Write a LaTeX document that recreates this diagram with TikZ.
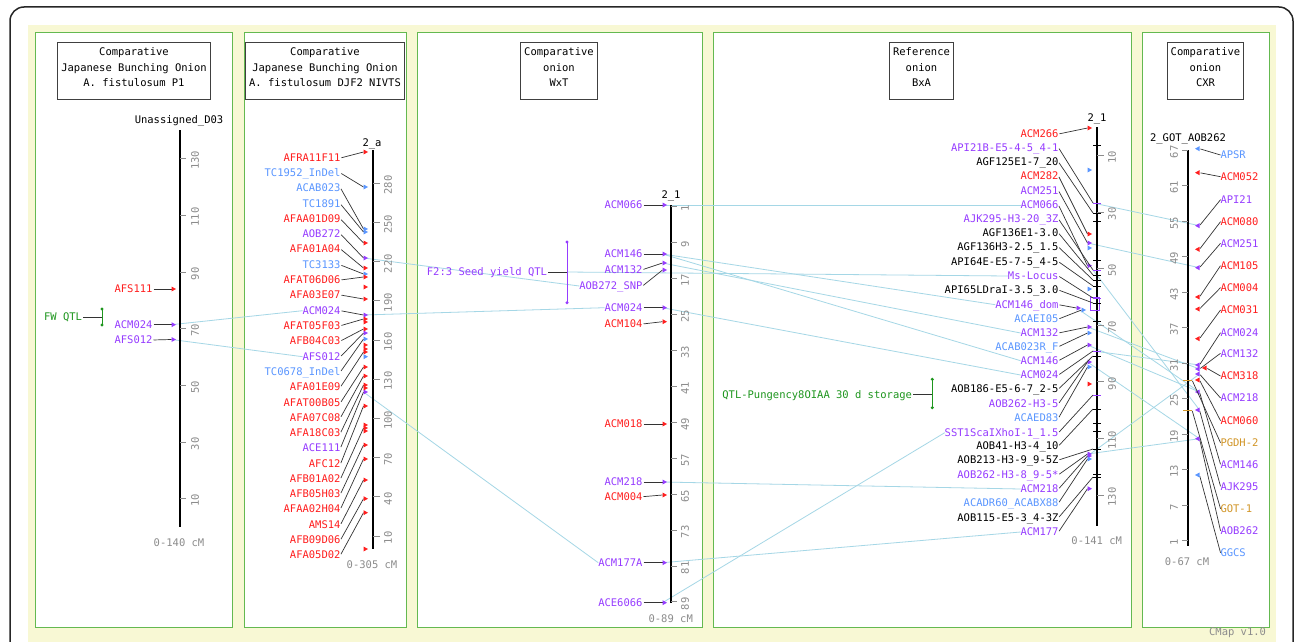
\documentclass[tikz,border=0pt]{standalone}
\usepackage{fontspec}
\setmonofont{DejaVu Sans Mono}
\usetikzlibrary{arrows, shapes}

\definecolor{mred}{RGB}{255,30,30}
\definecolor{mpurple}{RGB}{150,60,255}
\definecolor{mblue}{RGB}{90,150,255}
\definecolor{mgold}{RGB}{210,150,40}
\definecolor{mgreen}{RGB}{30,150,30}
\definecolor{tickgray}{RGB}{140,140,140}
\definecolor{corrblue}{RGB}{165,215,230}
\definecolor{panelgreen}{RGB}{100,185,80}
\definecolor{bgyellow}{RGB}{248,248,212}

\pgfdeclarelayer{back}
\pgfdeclarelayer{mid}
\pgfsetlayers{back,mid,main}

\begin{document}
\begin{tikzpicture}[x=1pt, y=-1pt, font=\ttfamily\fontsize{10.5}{12}\selectfont]
    \tikzstyle{every node} = [inner sep=0pt, outer sep=0pt]
    \tikzstyle{mono} = [text height=7.6pt, text depth=0pt]
    \tikzstyle{lab} = [mono, anchor=east]
    \tikzstyle{rlab} = [mono, anchor=west]
    \tikzstyle{lead} = [draw=black!80, line width=0.7pt, shorten <=1pt]
    \tikzstyle{corr} = [draw=corrblue, line width=0.8pt]
    \tikzstyle{cbar} = [draw=black, line width=2pt]
    \tikzstyle{tick} = [draw=tickgray, line width=0.7pt]
    \tikzstyle{ticklab} = [mono, text=tickgray, rotate=90]
    \tikzstyle{rangelab} = [mono, text=tickgray]
    \tikzstyle{panel} = [draw=panelgreen, fill=white, line width=1pt]
    \tikzstyle{titlebox} = [draw=black!75, fill=white, line width=0.9pt]
    \tikzstyle{titletext} = [align=center, font=\ttfamily\fontsize{10.5}{15.7}\selectfont]
    \tikzstyle{qtlbar} = [line width=0.9pt]

    \useasboundingbox (0,0) rectangle (1295,642);
    \clip (0,0) rectangle (1295,642);

    % frame, background and the five panels
    \begin{pgfonlayer}{back}
      \draw[black!85, line width=1.5pt, rounded corners=14pt] (10,7) rectangle (1293,700);
      \fill[bgyellow] (28,25) rectangle (1276,700);
      \draw[panel] (35.5,32.5) rectangle (232,627);
      \draw[panel] (244,32.5) rectangle (406,627);
      \draw[panel] (417,32.5) rectangle (702,627);
      \draw[panel] (713,32.5) rectangle (1131,627);
      \draw[panel] (1142,32.5) rectangle (1269,627);
    \end{pgfonlayer}

    % titles
    \draw[titlebox] (57.5,42) rectangle (210.5,99);
    \node[titletext] (t1) at (134,67.3) {Comparative\\Japanese Bunching Onion\\A. fistulosum P1};
    \draw[titlebox] (245.5,42) rectangle (404.5,99);
    \node[titletext] (t2) at (325,67.3) {Comparative\\Japanese Bunching Onion\\A. fistulosum DJF2 NIVTS};
    \draw[titlebox] (520.5,42) rectangle (597.5,99);
    \node[titletext] (t3) at (559,67.3) {Comparative\\onion\\WxT};
    \draw[titlebox] (889.5,42) rectangle (953.5,99);
    \node[titletext] (t4) at (921.5,67.3) {Reference\\onion\\BxA};
    \draw[titlebox] (1167.5,42) rectangle (1243.5,99);
    \node[titletext] (t5) at (1205.5,67.3) {Comparative\\onion\\CXR};

    \node[anchor=east, mono, text=tickgray] (cmap) at (1266,632) {CMap v1.0};

    % map 1: Unassigned_D03
    \node[mono] (n1) at (179,120) {Unassigned\_D03};
    \coordinate (c1top) at (180,130);
    \coordinate (c1bot) at (180,527);
    \draw[cbar] (c1top) -- (c1bot);
    \foreach \v in {10,30,...,130} {
      \draw[tick] (180,{527-2.835*\v}) -- ++(6,0);
      \node[ticklab] (k1\v) at (195,{529-2.835*\v}) {\v};
    }
    \node[rangelab] (r1) at (179,542.7) {0-140 cM};
    \foreach \nm/\txt/\col/\ly/\my in {afs111/AFS111/mred/289/289,
        acm024/ACM024/mpurple/324.7/324.7, afs012/AFS012/mpurple/340/339.5} {
      \node[lab, text=\col] (l1\nm) at (152.5,\ly) {\txt};
      \coordinate (m1\nm) at (171.5,\my);
      \draw[lead] (l1\nm.east) -- (m1\nm);
      \fill[fill=\col] (m1\nm) ++(0,-2.5) -- ++(4.5,2.5) -- ++(-4.5,2.5) -- cycle;
    }
    \node[lab, text=mgreen] (qfw) at (82,317) {FW QTL};
    \coordinate (qfwtop) at (102,309);
    \coordinate (qfwbot) at (102,325);
    \draw[qtlbar, mgreen] (qfwtop) -- (qfwbot);
    \fill[mgreen] (qfwtop) circle (1.7) (qfwbot) circle (1.7);
    \draw[lead] (qfw.east) -- (qfwtop |- qfw.east);

    % map 2: 2_a
    \node[mono] (n2) at (372,142.5) {2\_a};
    \coordinate (c2top) at (373,150);
    \coordinate (c2bot) at (373,549);
    \draw[cbar] (c2top) -- (c2bot);
    \foreach \v in {10,40,...,280} {
      \draw[tick] (373,{549-1.3067*\v}) -- ++(7,0);
      \node[ticklab] (k2\v) at (388,{551-1.3067*\v}) {\v};
    }
    \node[rangelab] (r2) at (372,565) {0-305 cM};
    \foreach \nm/\txt/\col/\ly/\my in {afra11f11/AFRA11F11/mred/158/152,
        tc1952/TC1952\_InDel/mblue/173/187, acab023/ACAB023/mblue/188/229,
        tc1891/TC1891/mblue/204/232, afaa01d09/AFAA01D09/mred/219/243,
        aob272/AOB272/mpurple/234/258, afa01a04/AFA01A04/mred/249/268,
        tc3133/TC3133/mblue/265/274, afat06d06/AFAT06D06/mred/280/277,
        afa03e07/AFA03E07/mred/295/299, acm024/ACM024/mpurple/310.7/315,
        afat05f03/AFAT05F03/mred/325.7/319, afb04c03/AFB04C03/mred/341/329,
        afs012/AFS012/mpurple/356.7/333, tc0678/TC0678\_InDel/mblue/371.7/339,
        afa01e09/AFA01E09/mred/387/352, afat00b05/AFAT00B05/mred/402.7/367,
        afa07c08/AFA07C08/mred/417.7/376, afa18c03/AFA18C03/mred/433/385,
        ace111/ACE111/mpurple/448/392, afc12/AFC12/mred/464/406,
        afb01a02/AFB01A02/mred/479/428, afb05h03/AFB05H03/mred/494/445,
        afaa02h04/AFAA02H04/mred/509/459, ams14/AMS14/mred/524.7/480,
        afb09d06/AFB09D06/mred/540/498.7, afa05d02/AFA05D02/mred/555/512.7} {
      \node[lab, text=\col] (l2\nm) at (340.5,\ly) {\txt};
      \coordinate (m2\nm) at (363.5,\my);
      \draw[lead] (l2\nm.east) -- (m2\nm);
      \fill[fill=\col] (m2\nm) ++(0,-2.5) -- ++(4.5,2.5) -- ++(-4.5,2.5) -- cycle;
    }
    \foreach \my/\col in {287/mred, 322/mred, 345/mred, 349/mred, 356.7/mblue,
        388/mred, 425/mred, 431/mred, 549/mred}
      \fill[fill=\col] (363.5,\my) ++(0,-2.5) -- ++(4.5,2.5) -- ++(-4.5,2.5) -- cycle;

    % map 3: 2_1 (WxT)
    \node[mono] (n3) at (671,195) {2\_1};
    \coordinate (c3top) at (670.5,205);
    \coordinate (c3bot) at (670.5,602.5);
    \draw[cbar] (c3top) -- (c3bot);
    \foreach \v in {1,9,...,89} {
      \draw[tick] (670.5,{202.2+4.49*\v}) -- ++(6,0);
      \node[ticklab] (k3\v) at (685,{204.2+4.49*\v}) {\v};
    }
    \node[rangelab] (r3) at (670.7,618.3) {0-89 cM};
    \foreach \nm/\txt/\col/\ly/\my in {acm066/ACM066/mpurple/205/205,
        acm146/ACM146/mpurple/254/254, acm132/ACM132/mpurple/269.7/263,
        aob272snp/AOB272\_SNP/mpurple/286/270, acm024/ACM024/mpurple/307.7/307.7,
        acm104/ACM104/mred/324/321.7, acm018/ACM018/mred/424/424,
        acm218/ACM218/mpurple/482/482, acm004/ACM004/mred/496.7/495,
        acm177a/ACM177A/mpurple/562.7/562.7, ace6066/ACE6066/mpurple/602.7/602.7} {
      \node[lab, text=\col] (l3\nm) at (642.5,\ly) {\txt};
      \coordinate (m3\nm) at (662.5,\my);
      \draw[lead] (l3\nm.east) -- (m3\nm);
      \fill[fill=\col] (m3\nm) ++(0,-2.5) -- ++(4.5,2.5) -- ++(-4.5,2.5) -- cycle;
    }
    \node[lab, text=mpurple] (qf2) at (547,272) {F2:3 Seed yield QTL};
    \coordinate (qf2top) at (567,242);
    \coordinate (qf2bot) at (567,302.7);
    \draw[qtlbar, mpurple] (qf2top) -- (qf2bot);
    \fill[mpurple] (qf2top) circle (1.7) (qf2bot) circle (1.7);
    \draw[lead] (qf2.east) -- (qf2top |- qf2.east);

    % map 4: 2_1 (BxA, reference)
    \node[mono] (n4) at (1097,118) {2\_1};
    \coordinate (c4top) at (1097,127);
    \coordinate (c4bot) at (1097,526);
    \draw[cbar] (c4top) -- (c4bot);
    \foreach \v in {10,30,...,130} {
      \draw[tick] (1097,{127+2.83*\v}) -- ++(7,0);
      \node[ticklab] (k4\v) at (1112,{129+2.83*\v}) {\v};
    }
    \node[rangelab] (r4) at (1096.7,541) {0-141 cM};
    \foreach \my in {145,221,260,321,423,431,474}
      \draw[black, line width=1pt] (1093,\my) -- ++(8,0);
    \foreach \my/\col in {170/mblue, 248/mblue, 289/mblue, 384/mred}
      \fill[fill=\col] (1087.5,\my) ++(0,-2.5) -- ++(4.5,2.5) -- ++(-4.5,2.5) -- cycle;
    \draw[mpurple, line width=0.9pt] (1090,297) rectangle (1099,310);
    \foreach \nm/\txt/\col/\ly/\mx/\my in {acm266/ACM266/mred/134/1087.5/128,
        acm282/ACM282/mred/176/1087.5/234, acm251/ACM251/mpurple/190.7/1087.5/243,
        acm066/ACM066/mpurple/205/1087.5/265.7,
        acm146dom/ACM146\_dom/mpurple/304.7/1076.5/308,
        acaei05/ACAEI05/mblue/319/1081.5/310, acm132/ACM132/mpurple/333/1087.5/327,
        acab023rf/ACAB023R\_F/mblue/346.7/1087.5/333,
        acm146/ACM146/mpurple/360.7/1087.5/345,
        aob262h35/AOB262-H3-5/mpurple/403.7/1087.5/362,
        acaed83/ACAED83/mblue/418/1087.5/367,
        aob262h38/AOB262-H3-8\_9-5*/mpurple/474.7/1087.5/454,
        acm218/ACM218/mpurple/489/1087.5/456,
        acadr60/ACADR60\_ACABX88/mblue/503/1087.5/459,
        acm177/ACM177/mpurple/532/1087.5/488.7} {
      \node[lab, text=\col] (l4\nm) at (1058.5,\ly) {\txt};
      \coordinate (m4\nm) at (\mx,\my);
      \draw[lead] (l4\nm.east) -- (m4\nm);
      \fill[fill=\col] (m4\nm) ++(0,-2.5) -- ++(4.5,2.5) -- ++(-4.5,2.5) -- cycle;
    }
    \foreach \nm/\txt/\col/\ly/\my in {api21b/API21B-E5-4-5\_4-1/mpurple/147.7/203,
        agf125e1/AGF125E1-7\_20/black/162/213,
        ajk295/AJK295-H3-20\_3Z/mpurple/219/270,
        agf136e1/AGF136E1-3.0/black/233/275,
        agf136h3/AGF136H3-2.5\_1.5/black/247/280,
        api64e/API64E-E5-7-5\_4-5/black/261.7/286,
        mslocus/Ms-Locus/mpurple/276/298,
        api65l/API65LDraI-3.5\_3.0/black/290/303,
        acm024/ACM024/mpurple/375/351,
        aob186/AOB186-E5-6-7\_2-5/black/389/356,
        sst1/SST1ScaIXhoI-1\_1.5/mpurple/432.7/395,
        aob41/AOB41-H3-4\_10/black/446/409,
        aob213/AOB213-H3-9\_9-5Z/black/460/449,
        aob115/AOB115-E5-3\_4-3Z/black/517.7/477} {
      \node[lab, text=\col] (l4\nm) at (1058.5,\ly) {\txt};
      \coordinate (m4\nm) at (1093,\my);
      \draw[lead] (l4\nm.east) -- (m4\nm);
      \draw[draw=\col, line width=1pt] (m4\nm) -- ++(8,0);
    }
    \node[lab, text=mgreen] (qpun) at (912,394.3) {QTL-Pungency8OIAA 30 d storage};
    \coordinate (qpuntop) at (932.3,379.3);
    \coordinate (qpunbot) at (932.3,407.7);
    \draw[qtlbar, mgreen] (qpuntop) -- (qpunbot);
    \fill[mgreen] (qpuntop) circle (1.7) (qpunbot) circle (1.7);
    \draw[lead] (qpun.east) -- (qpuntop |- qpun.east);

    % map 5: 2_GOT_AOB262
    \node[mono] (n5) at (1188,138) {2\_GOT\_AOB262};
    \coordinate (c5top) at (1188,150);
    \coordinate (c5bot) at (1188,546);
    \draw[cbar] (c5top) -- (c5bot);
    \foreach \v in {1,7,...,67} {
      \draw[tick] (1182,{546.6-5.92*\v}) -- (1188,{546.6-5.92*\v});
      \node[ticklab] (k5\v) at (1174,{548.6-5.92*\v}) {\v};
    }
    \node[rangelab] (r5) at (1187,561.7) {0-67 cM};
    \foreach \nm/\txt/\col/\ly/\mx/\my in {apsr/APSR/mblue/155/1199.5/148.7,
        acm052/ACM052/mred/176.7/1199.5/172.7, api21/API21/mpurple/199.7/1199.5/225.7,
        acm080/ACM080/mred/221.7/1199.5/249.3, acm251/ACM251/mpurple/243.3/1199.5/267.7,
        acm105/ACM105/mred/265.7/1199.5/297, acm004/ACM004/mred/287.7/1199.5/309,
        acm031/ACM031/mred/310/1199.5/338.7, acm024/ACM024/mpurple/332.7/1199.5/365,
        acm132/ACM132/mpurple/353.3/1199.5/369, acm318/ACM318/mred/376/1206.5/368,
        acm218/ACM218/mpurple/398/1199.5/374, acm060/ACM060/mred/420.7/1199.5/380,
        acm146/ACM146/mpurple/464.3/1199.5/392, ajk295/AJK295/mpurple/486.3/1199.5/410,
        aob262/AOB262/mpurple/530.7/1199.5/438.7, ggcs/GGCS/mblue/552.7/1199.5/475} {
      \node[rlab, text=\col] (l5\nm) at (1220.5,\ly) {\txt};
      \coordinate (m5\nm) at (\mx,\my);
      \draw[lead] (m5\nm) -- (l5\nm.west);
      \fill[fill=\col] (m5\nm) ++(0,-2.5) -- ++(-4.5,2.5) -- ++(4.5,2.5) -- cycle;
    }
    \foreach \nm/\txt/\ly/\my in {pgdh2/PGDH-2/442.7/380, got1/GOT-1/508.7/410} {
      \node[rlab, text=mgold] (l5\nm) at (1220.5,\ly) {\txt};
      \coordinate (m5\nm) at (1192,\my);
      \draw[lead] (m5\nm) -- (l5\nm.west);
      \draw[mgold, line width=1pt] (m5\nm) -- ++(-9,0);
    }

    % correspondences between the maps
    \begin{pgfonlayer}{mid}
      \draw[corr] (m1acm024) -- (l2acm024.west);
      \draw[corr] (m1afs012) -- (l2afs012.west);
      \draw[corr] (m2acm024) -- (l3acm024.west);
      \draw[corr] (m2aob272) -- (l3aob272snp.west);
      \draw[corr] (m2ace111) -- (l3acm177a.west);
      \draw[corr] (m3acm066) -- (l4acm066.west);
      \draw[corr] (m3acm146) -- (l4acm146dom.west);
      \draw[corr] (m3acm146) -- (l4acm146.west);
      \draw[corr] (m3acm132) -- (l4acm132.west);
      \draw[corr] (m3acm024) -- (l4acm024.west);
      \draw[corr] (m3acm218) -- (l4acm218.west);
      \draw[corr] (m3acm177a) -- (l4acm177.west);
      \draw[corr] (m3ace6066) -- (l4sst1.west);
      \draw[corr] (qf2top |- qf2.east) -- (l4mslocus.west);
      \draw[corr] (m4api21b) -- (m5api21);
      \draw[corr] (m4acm251) -- (m5acm251);
      \draw[corr] (m4ajk295) -- (m5ajk295);
      \draw[corr] (m4acm146dom) -- (m5acm146);
      \draw[corr] (m4acm132) -- (m5acm132);
      \draw[corr] (m4acm146) -- (m5acm146);
      \draw[corr] (m4acm024) -- (m5acm024);
      \draw[corr] (m4aob262h35) -- (m5aob262);
      \draw[corr] (m4acm218) -- (m5acm218);
      \draw[corr] (m4aob262h38) -- (m5aob262);
    \end{pgfonlayer}
\end{tikzpicture}
\end{document}
